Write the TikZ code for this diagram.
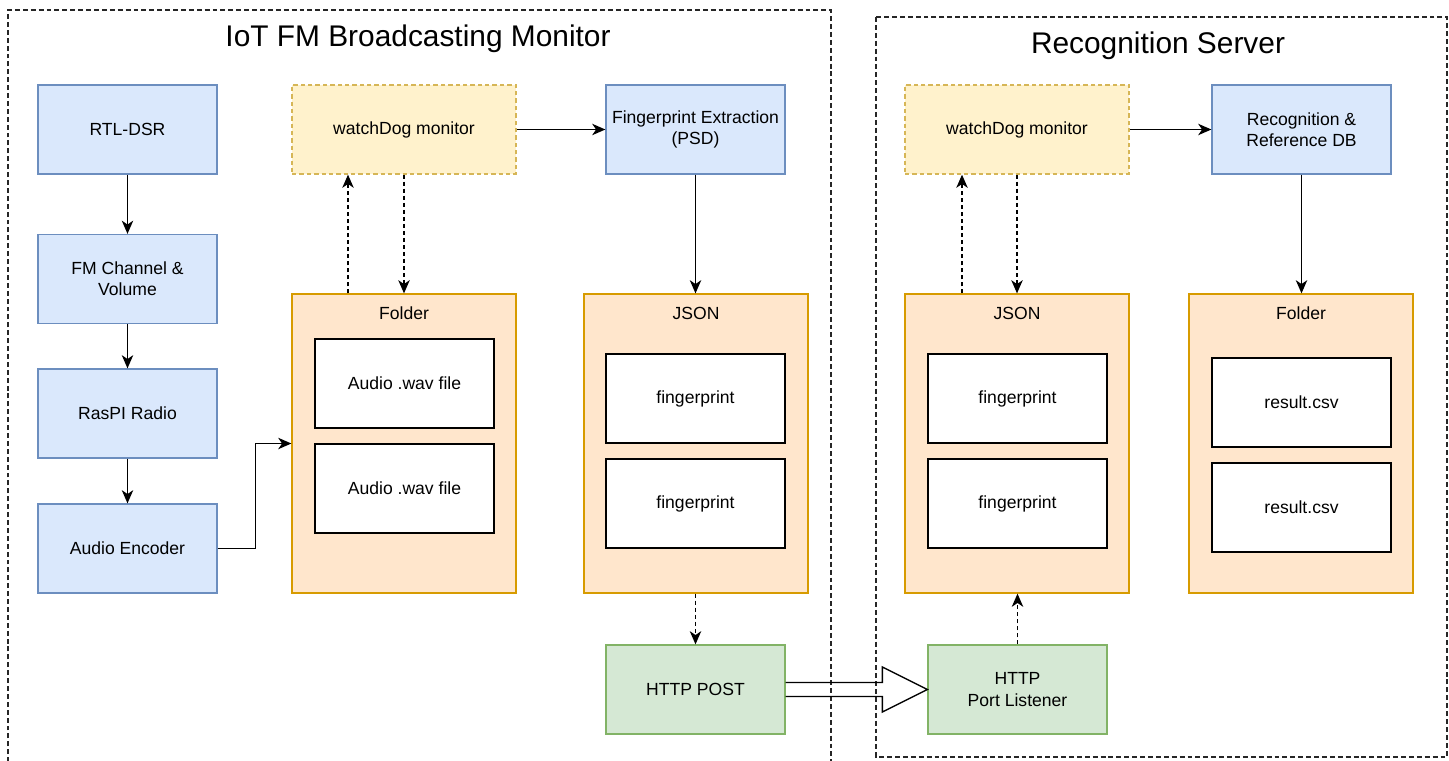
\documentclass[tikz,border=0pt]{standalone}
\usepackage{fontspec}
\setmainfont{Liberation Sans}
\usetikzlibrary{calc}
\usetikzlibrary{arrows.meta}

\definecolor{bluefill}{HTML}{DAE8FC}
\definecolor{bluedraw}{HTML}{6C8EBF}
\definecolor{dogfill}{HTML}{FFF2CC}
\definecolor{dogdraw}{HTML}{D6B656}
\definecolor{orgfill}{HTML}{FFE6CC}
\definecolor{orgdraw}{HTML}{D79B00}
\definecolor{grnfill}{HTML}{D5E8D4}
\definecolor{grndraw}{HTML}{82B366}

\begin{document}
\begin{tikzpicture}[x=0.02cm,y=-0.02cm,>={Stealth[length=7.5pt,width=6.5pt,inset=2.2pt]},
  font=\fontsize{10}{12}\selectfont, line width=0.75pt,
  small/.style={rectangle,minimum width=3.58cm,minimum height=1.78cm,align=center,line width=0.75pt},
  bluebox/.style={small,draw=bluedraw,fill=bluefill},
  dogbox/.style={rectangle,minimum width=4.48cm,minimum height=1.78cm,draw=dogdraw,fill=dogfill,dash pattern=on 2.5pt off 1.7pt},
  bigbox/.style={rectangle,minimum width=4.48cm,minimum height=5.98cm,draw=orgdraw,fill=orgfill,line width=0.75pt},
  filebox/.style={small,draw=black,fill=white},
  httpbox/.style={small,draw=grndraw,fill=grnfill},
  cont/.style={draw=black!85,dash pattern=on 2.8pt off 1.7pt},
  dsh/.style={->,dash pattern=on 2.3pt off 1.7pt},
  big title/.style={font=\fontsize{17}{21}\selectfont}]

\useasboundingbox (0,0) rectangle (1449,760);

% containers
\draw [cont] (8,770) -- (8,10) -- (831,10) -- (831,770);
\draw [cont] (876,17) rectangle (1447,757);
\node [big title] (titleA) at (418,39) {IoT FM Broadcasting Monitor};
\node [big title] (titleB) at (1158,46) {Recognition Server};

% radio chain
\node [bluebox] (rtl) at (127.5,129.5) {RTL-DSR};
\node [bluebox] (fmch) at (127.5,279) {FM Channel \&\\ Volume};
\node [bluebox] (raspi) at (127.5,413.5) {RasPI Radio};
\node [bluebox] (enc) at (127.5,548.5) {Audio Encoder};

% monitor side
\node [dogbox] (dogA) at (404,129.5) {watchDog monitor};
\node [bluebox] (fpx) at (695.5,129.5) {Fingerprint Extraction\\ (PSD)};
\node [bigbox] (folderA) at (404,443.5) {};
\node (folderAlbl) at ($(folderA.north)+(0,20)$) {Folder};
\node [filebox] (wavA) at (404.5,383.5) {Audio .wav file};
\node [filebox] (wavB) at (404.5,488.5) {Audio .wav file};
\node [bigbox] (jsonA) at (696,443.5) {};
\node (jsonAlbl) at ($(jsonA.north)+(0,20)$) {JSON};
\node [filebox] (fpA) at (695.5,398.5) {fingerprint};
\node [filebox] (fpB) at (695.5,503.5) {fingerprint};
\node [httpbox] (post) at (695.5,689.5) {HTTP POST};

% server side
\node [dogbox] (dogB) at (1017,129.5) {watchDog monitor};
\node [bluebox] (recog) at (1301.5,129.5) {Recognition \&\\ Reference DB};
\node [bigbox] (jsonB) at (1017,443.5) {};
\node (jsonBlbl) at ($(jsonB.north)+(0,20)$) {JSON};
\node [filebox] (fpC) at (1017.5,398.5) {fingerprint};
\node [filebox] (fpD) at (1017.5,503.5) {fingerprint};
\node [bigbox] (folderB) at (1301,443.5) {};
\node (folderBlbl) at ($(folderB.north)+(0,20)$) {Folder};
\node [filebox] (csvA) at (1301.5,402.5) {result.csv};
\node [filebox] (csvB) at (1301.5,507.5) {result.csv};
\node [httpbox] (listen) at (1017.5,689.5) {HTTP\\ Port Listener};

% connectors
\draw [->] (rtl) -- (fmch);
\draw [->] (fmch) -- (raspi);
\draw [->] (raspi) -- (enc);
\draw [->] (enc.east) -- ++(38,0) |- (folderA.west);
\draw [dsh] ($(folderA.north)+(-56,0)$) -- ($(dogA.south)+(-56,0)$);
\draw [dsh] (dogA) -- (folderA);
\draw [->] (dogA) -- (fpx);
\draw [->] (fpx.south) -- (fpx.south |- jsonA.north);
\draw [dsh] (jsonA.south -| post.north) -- (post);
\draw [dsh] ($(jsonB.north)+(-55,0)$) -- ($(dogB.south)+(-55,0)$);
\draw [dsh] (dogB) -- (jsonB);
\draw [->] (dogB) -- (recog);
\draw [->] (recog.south) -- (recog.south |- folderB.north);
\draw [dsh] (listen) -- (listen.north |- jsonB.south);

% hollow arrow
\draw ($(post.east)+(0,-7)$) -- ($(listen.west)+(-45,-7)$) -- ++(0,-15.5)
  -- (listen.west) -- ++(-45,22.5) -- ++(0,-15.5) -- ($(post.east)+(0,7)$);

\end{tikzpicture}
\end{document}
